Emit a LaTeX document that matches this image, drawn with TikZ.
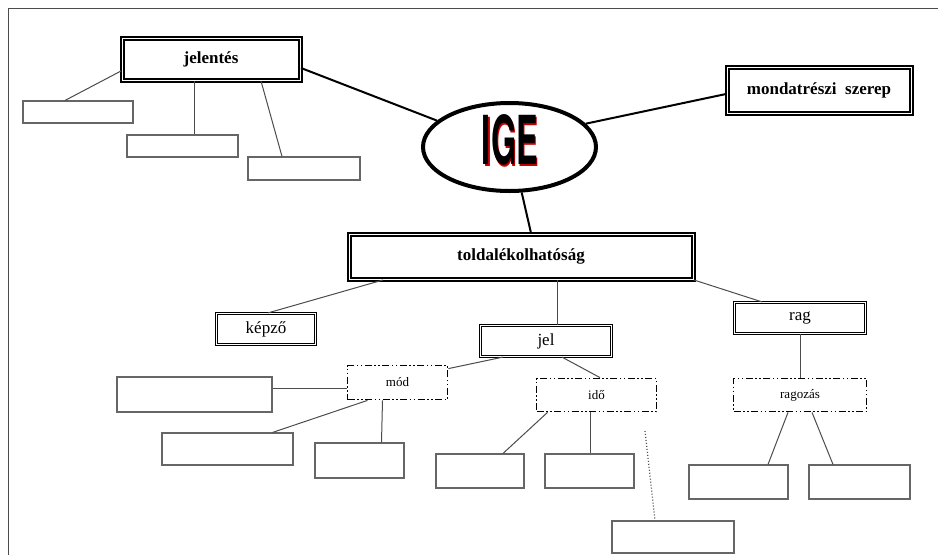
\documentclass[tikz,border=0pt]{standalone}
\usepackage{fontspec}
\setmainfont{Liberation Serif}
\newfontfamily\igefont{TeX Gyre Heros}
\usetikzlibrary{shapes.geometric}

\begin{document}
\begin{tikzpicture}[
        x=1pt, y=-1pt,
        every node/.style={align=center, inner sep=0pt},
        bigbox/.style={draw, line width=2pt, double=white, double distance=1pt,
            font=\fontsize{17}{20}\selectfont\bfseries},
        midbox/.style={draw, line width=1.2pt, double=white, double distance=0.8pt,
            font=\fontsize{17}{20}\selectfont},
        dashbox/.style={draw, line width=1.8pt,
            dash pattern=on 7pt off 2.5pt on 1.5pt off 2.5pt on 1.5pt off 2.5pt,
            font=\fontsize{13}{15}\selectfont},
        emptybox/.style={draw=black!60, line width=1.1pt},
        mainline/.style={line width=2pt},
        subline/.style={draw=black!70, line width=1pt}
    ]

        \useasboundingbox (0,0) rectangle (938,555);

        % --- Rahmen ---
        \draw[line width=1pt, black!70] (8,555) -- (8,8) -- (938,8);

        % --- Mitte ---
        \node[ellipse, draw, line width=4pt, minimum width=173pt, minimum height=88pt] (ige) at (509.5,147) {};
        \node[text=red!75!black] (igeshadow) at (511.5,141.5) {\resizebox{56pt}{50pt}{\igefont\bfseries IGE}};
        \node (igetext) at (510,140) {\resizebox{56pt}{50pt}{\igefont\bfseries IGE}};

        % --- Obere Ebene ---
        \node[bigbox, minimum width=178pt, minimum height=42pt] (jelentes) at (211,59) {jelentés};
        \node[bigbox, minimum width=184pt, minimum height=46pt] (mondat) at (819,90) {mondatrészi\ \ szerep};
        \node[bigbox, minimum width=344pt, minimum height=45pt] (toldalek) at (521,256.5) {toldalékolhatóság};

        % leere Kaesten unter jelentés
        \node[emptybox, minimum width=110pt, minimum height=22pt] (e1) at (78,112) {};
        \node[emptybox, minimum width=111pt, minimum height=22pt] (e2) at (182.5,146) {};
        \node[emptybox, minimum width=112pt, minimum height=23pt] (e3) at (304,168.5) {};

        % --- Mittlere Ebene ---
        \node[midbox, minimum width=99pt, minimum height=31pt] (kepzo) at (266,329) {képző};
        \node[midbox, minimum width=131pt, minimum height=31pt] (jel) at (546,341) {jel};
        \node[midbox, minimum width=131pt, minimum height=31pt] (rag) at (800,318) {rag};

        \node[dashbox, minimum width=100pt, minimum height=34pt] (mod) at (397.5,382.5) {mód};
        \node[dashbox, minimum width=120pt, minimum height=33pt] (ido) at (596.5,395) {idő};
        \node[dashbox, minimum width=133pt, minimum height=33pt] (ragozas) at (800,395) {ragozás};

        % --- Untere Ebene (leer) ---
        \node[emptybox, minimum width=155pt, minimum height=35pt] (e4) at (194.5,394.5) {};
        \node[emptybox, minimum width=131pt, minimum height=32pt] (e5) at (227.5,449) {};
        \node[emptybox, minimum width=89pt, minimum height=35pt] (e6) at (359.5,460.5) {};
        \node[emptybox, minimum width=88pt, minimum height=34pt] (e7) at (480,471) {};
        \node[emptybox, minimum width=89pt, minimum height=34pt] (e8) at (589.5,471) {};
        \node[emptybox, minimum width=122pt, minimum height=32pt] (e9) at (673,537) {};
        \node[emptybox, minimum width=99pt, minimum height=34pt] (e10) at (738.5,482) {};
        \node[emptybox, minimum width=101pt, minimum height=34pt] (e11) at (859.5,482) {};

        \coordinate (idotail) at (645,431);

        % --- Verbindungen ---
        \draw[mainline] ([yshift=-9pt]jelentes.east) -- (ige.160);
        \draw[mainline] (ige.17) -- ([yshift=-4pt]mondat.west);
        \draw[mainline] (ige.-75) -- ([xshift=10pt]toldalek.north);

        \draw[subline] ([yshift=-12pt]jelentes.west) -- ([xshift=-13pt]e1.north);
        \draw[subline] ([xshift=-17pt]jelentes.south) -- ([xshift=11.5pt]e2.north);
        \draw[subline] ([xshift=50pt]jelentes.south) -- ([xshift=-22pt]e3.north);

        \draw[subline] ([xshift=-138pt]toldalek.south) -- ([xshift=2pt]kepzo.north);
        \draw[subline] ([xshift=36pt]toldalek.south) -- ([xshift=11pt]jel.north);
        \draw[subline] (toldalek.south east) -- ([xshift=-38pt]rag.north);

        \draw[subline] ([xshift=-43pt]jel.south) -- ([yshift=-4pt]mod.north east);
        \draw[subline] ([xshift=16pt]jel.south) -- ([xshift=3.5pt]ido.north);
        \draw[subline] (rag.south) -- (ragozas.north);

        \draw[subline] ([yshift=6pt]e4.east) -- ([yshift=6pt]e4.east -| mod.west);
        \draw[subline] ([xshift=-30pt]mod.south) -- ([xshift=45pt]e5.north);
        \draw[subline] ([xshift=-15pt]mod.south) -- ([xshift=22pt]e6.north);

        \draw[subline] ([xshift=-49pt]ido.south) -- ([xshift=23pt]e7.north);
        \draw[subline] ([xshift=-6pt]ido.south) -- ([xshift=1pt]e8.north);
        \draw[subline, dotted, line width=1.2pt] (idotail) -- ([xshift=-18pt]e9.north);

        \draw[subline] ([xshift=-12pt]ragozas.south) -- ([xshift=29.5pt]e10.north);
        \draw[subline] ([xshift=12pt]ragozas.south) -- ([xshift=-26.5pt]e11.north);

    \end{tikzpicture}
\end{document}
